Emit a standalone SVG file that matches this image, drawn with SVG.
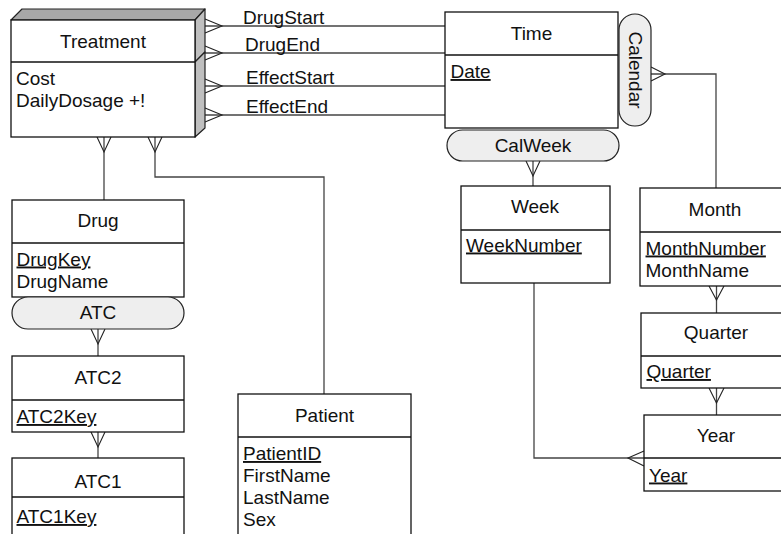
<svg xmlns="http://www.w3.org/2000/svg" width="781" height="534" viewBox="0 0 781 534">
  <style>
    text { font-family: "Liberation Sans", Arial, sans-serif; font-size: 19px; fill: #111; }
    .title { text-anchor: middle; }
    .key { text-decoration: underline; }
    .box { fill: #fff; stroke: #111; stroke-width: 1.3; }
    .div { stroke: #111; stroke-width: 1.3; fill: none; }
    .pill { fill: #eee; stroke: #222; stroke-width: 1.2; }
    .bevel { fill: #bfbfbf; stroke: #222; stroke-width: 1.2; stroke-linejoin: round; }
    .bevel-top { fill: #a8a8a8; }
    .conn { fill: none; stroke: #444; stroke-width: 1.3; }
    .crow { fill: none; stroke: #222; stroke-width: 1.1; }
  </style>

  <!-- relationships -->
  <g id="connectors">
    <!-- Treatment to Time: four date roles -->
    <line class="conn" x1="205" y1="26" x2="445" y2="26"/>
    <line class="conn" x1="205" y1="53" x2="445" y2="53"/>
    <line class="conn" x1="205" y1="86" x2="445" y2="86"/>
    <line class="conn" x1="205" y1="115" x2="445" y2="115"/>
    <polyline class="crow" points="205,19 222,26 205,33"/>
    <polyline class="crow" points="205,46 222,53 205,60"/>
    <polyline class="crow" points="205,79 222,86 205,93"/>
    <polyline class="crow" points="205,108 222,115 205,122"/>
    <text x="243" y="24">DrugStart</text>
    <text x="245" y="51">DrugEnd</text>
    <text x="246" y="84">EffectStart</text>
    <text x="246" y="113">EffectEnd</text>

    <!-- Treatment to Drug -->
    <line class="conn" x1="104" y1="137" x2="104" y2="200"/>
    <polyline class="crow" points="97,137 104,152 111,137"/>

    <!-- Treatment to Patient -->
    <polyline class="conn" points="155,137 155,177 324,177 324,394"/>
    <polyline class="crow" points="148,137 155,152 162,137"/>

    <!-- Drug hierarchy -->
    <line class="conn" x1="98" y1="329" x2="98" y2="356"/>
    <polyline class="crow" points="91,329 98,344 105,329"/>
    <line class="conn" x1="98" y1="432" x2="98" y2="458"/>
    <polyline class="crow" points="91,432 98,447 105,432"/>

    <!-- Time hierarchy -->
    <line class="conn" x1="533" y1="161" x2="533" y2="186"/>
    <polyline class="crow" points="526,161 533,176 540,161"/>
    <polyline class="conn" points="651,74 716,74 716,188"/>
    <polyline class="crow" points="651,67 665,74 651,81"/>
    <line class="conn" x1="716.5" y1="286" x2="716.5" y2="313"/>
    <polyline class="crow" points="709,286 716.5,300 724,286"/>
    <line class="conn" x1="716.5" y1="388" x2="716.5" y2="415"/>
    <polyline class="crow" points="709,388 716.5,403 724,388"/>
    <polyline class="conn" points="534,283 534,458 644,458"/>
    <polyline class="crow" points="644,451 628,458 644,466"/>
  </g>

  <!-- fact entity drawn as a raised box -->
  <g id="treatment">
    <polygon class="bevel bevel-top" points="11,20 22,9 205,9 195,20"/>
    <polygon class="bevel" points="195,20 205,9 205,52 195,62"/>
    <polygon class="bevel" points="195,62 205,52 205,128 195,137"/>
    <rect class="box" x="11" y="20" width="184" height="117"/>
    <line class="div" x1="11" y1="62" x2="195" y2="62"/>
    <text class="title" x="103" y="47.5">Treatment</text>
    <text x="16" y="84.5">Cost</text>
    <text x="16" y="106.5">DailyDosage +!</text>
  </g>

  <g id="time">
    <rect class="box" x="445" y="12" width="173" height="116"/>
    <line class="div" x1="445" y1="55" x2="618" y2="55"/>
    <text class="title" x="531.5" y="39.5">Time</text>
    <text class="key" x="450.5" y="78">Date</text>
  </g>

  <g id="calendar">
    <rect class="pill" x="619" y="14" width="32" height="112" rx="16" ry="16"/>
    <text class="title" transform="translate(628.5,70) rotate(90)" x="0" y="0">Calendar</text>
  </g>

  <g id="calweek">
    <rect class="pill" x="447" y="130" width="172" height="31" rx="15.5" ry="15.5"/>
    <text class="title" x="533" y="151.5">CalWeek</text>
  </g>

  <g id="week">
    <rect class="box" x="461" y="186" width="149" height="97"/>
    <line class="div" x1="461" y1="230" x2="610" y2="230"/>
    <text class="title" x="535" y="213">Week</text>
    <text class="key" x="466" y="251.5">WeekNumber</text>
  </g>

  <g id="month">
    <rect class="box" x="640" y="188" width="152" height="98"/>
    <line class="div" x1="640" y1="232" x2="792" y2="232"/>
    <text class="title" x="715" y="215.5">Month</text>
    <text class="key" x="645.5" y="254.5">MonthNumber</text>
    <text x="645.5" y="276.5">MonthName</text>
  </g>

  <g id="quarter">
    <rect class="box" x="641" y="313" width="152" height="75"/>
    <line class="div" x1="641" y1="356" x2="793" y2="356"/>
    <text class="title" x="716" y="339">Quarter</text>
    <text class="key" x="646.5" y="378">Quarter</text>
  </g>

  <g id="year">
    <rect class="box" x="644" y="415" width="152" height="76"/>
    <line class="div" x1="644" y1="458" x2="796" y2="458"/>
    <text class="title" x="716" y="441.5">Year</text>
    <text class="key" x="649" y="481.5">Year</text>
  </g>

  <g id="drug">
    <rect class="box" x="12" y="200" width="172" height="97"/>
    <line class="div" x1="12" y1="243" x2="184" y2="243"/>
    <text class="title" x="98" y="226.5">Drug</text>
    <text class="key" x="16.5" y="265.5">DrugKey</text>
    <text x="16.5" y="287.5">DrugName</text>
  </g>

  <g id="atc">
    <rect class="pill" x="12" y="297" width="172" height="32" rx="16" ry="16"/>
    <text class="title" x="98" y="319">ATC</text>
  </g>

  <g id="atc2">
    <rect class="box" x="12" y="356" width="172" height="76"/>
    <line class="div" x1="12" y1="400" x2="184" y2="400"/>
    <text class="title" x="98" y="384">ATC2</text>
    <text class="key" x="16.5" y="423">ATC2Key</text>
  </g>

  <g id="atc1">
    <rect class="box" x="12" y="458" width="172" height="90"/>
    <line class="div" x1="12" y1="497" x2="184" y2="497"/>
    <text class="title" x="98" y="488">ATC1</text>
    <text class="key" x="16.5" y="523">ATC1Key</text>
  </g>

  <g id="patient">
    <rect class="box" x="238" y="394" width="173" height="160"/>
    <line class="div" x1="238" y1="437" x2="411" y2="437"/>
    <text class="title" x="324.5" y="421.5">Patient</text>
    <text class="key" x="243" y="460">PatientID</text>
    <text x="243" y="482">FirstName</text>
    <text x="243" y="504">LastName</text>
    <text x="243" y="526">Sex</text>
  </g>
</svg>
